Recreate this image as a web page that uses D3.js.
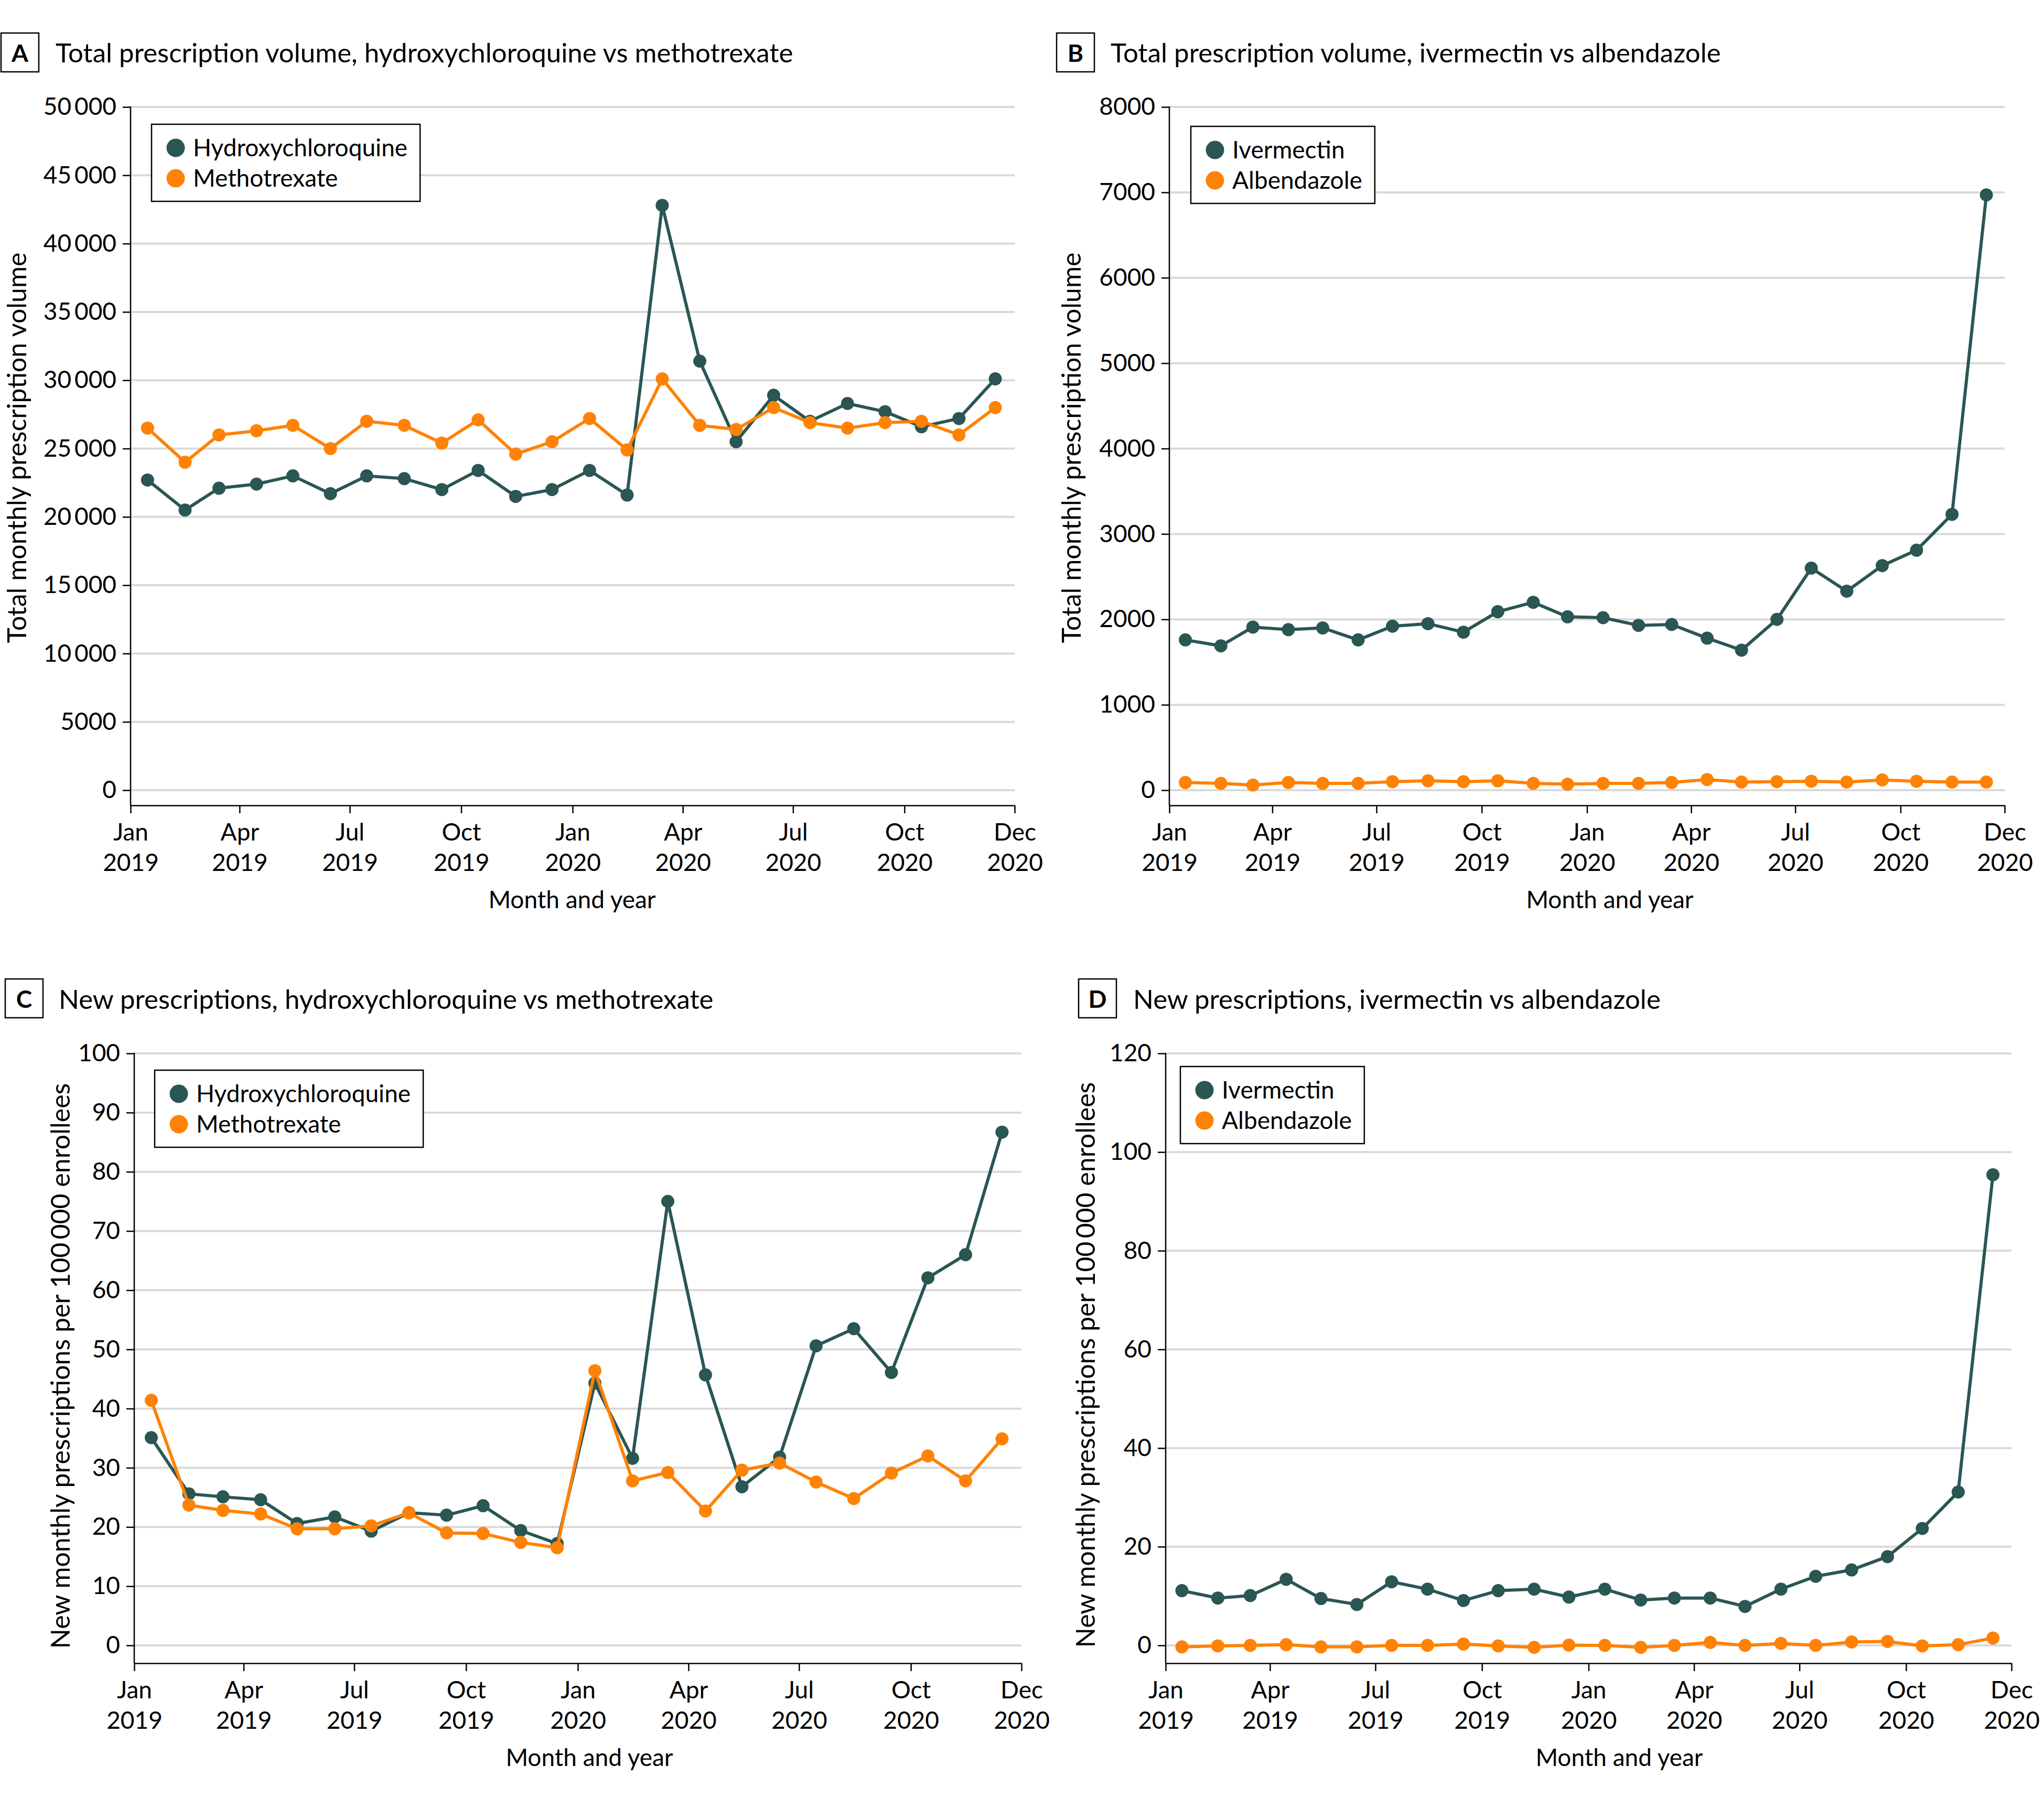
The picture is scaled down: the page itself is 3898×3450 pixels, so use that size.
<!DOCTYPE html>
<html><head><meta charset="utf-8">
<script src="https://cdn.jsdelivr.net/npm/d3@7"></script>
<style>
html,body{margin:0;padding:0;background:#fff;}
svg{display:block;}
text{font-family:Lato,"Open Sans",sans-serif;fill:#000;}
</style></head><body>
<svg id="chart" width="3898" height="3450"></svg>
<script>
// ---------- DATA ----------
const months = ["2019-01","2019-02","2019-03","2019-04","2019-05","2019-06","2019-07","2019-08","2019-09","2019-10","2019-11","2019-12",
                "2020-01","2020-02","2020-03","2020-04","2020-05","2020-06","2020-07","2020-08","2020-09","2020-10","2020-11","2020-12"];

const hcqTotal = [22700,20500,22100,22400,23000,21700,23000,22800,22000,23400,21500,22000,
                  23400,21600,42800,31400,25500,28900,27000,28300,27700,26600,27200,30100];
const mtxTotal = [26500,24000,26000,26300,26700,25000,27000,26700,25400,27100,24600,25500,
                  27200,24900,30100,26700,26400,28000,26900,26500,26900,27000,26000,28000];

const ivmTotal = [1760,1690,1910,1880,1900,1760,1920,1950,1850,2090,2200,2030,
                  2020,1930,1940,1780,1640,2000,2600,2330,2630,2810,3230,6970];
const albTotal = [90,80,60,90,80,80,100,110,100,110,80,70,
                  80,80,90,125,95,100,105,95,120,105,95,95];

const hcqNew = [35.1,25.6,25.1,24.6,20.6,21.7,19.3,22.4,22.0,23.6,19.4,17.2,
                44.3,31.6,75.0,45.7,26.8,31.8,50.6,53.5,46.1,62.1,66.0,86.7];
const mtxNew = [41.4,23.7,22.8,22.2,19.7,19.7,20.2,22.4,19.0,18.9,17.4,16.5,
                46.4,27.8,29.2,22.7,29.6,30.8,27.6,24.8,29.1,32.0,27.8,34.9];

const ivmNew = [11.1,9.6,10.1,13.4,9.5,8.3,12.9,11.4,9.1,11.1,11.4,9.8,
                11.4,9.2,9.6,9.6,7.9,11.4,14.0,15.3,18.0,23.7,31.1,95.4];
const albNew = [-0.3,-0.1,0,0.15,-0.3,-0.3,0,0,0.27,-0.1,-0.4,0.05,
                0,-0.4,0,0.6,0,0.4,0,0.7,0.8,-0.1,0.15,1.5];

const yTicksA = [0,5000,10000,15000,20000,25000,30000,35000,40000,45000,50000];
const yLabelsA = ["0","5000","10\u2009000","15\u2009000","20\u2009000","25\u2009000","30\u2009000","35\u2009000","40\u2009000","45\u2009000","50\u2009000"];
const yTicksB = [0,1000,2000,3000,4000,5000,6000,7000,8000];
const yLabelsB = ["0","1000","2000","3000","4000","5000","6000","7000","8000"];
const yTicksC = [0,10,20,30,40,50,60,70,80,90,100];
const yLabelsC = ["0","10","20","30","40","50","60","70","80","90","100"];
const yTicksD = [0,20,40,60,80,100,120];
const yLabelsD = ["0","20","40","60","80","100","120"];

const xTickDates = ["2019-01-01","2019-04-01","2019-07-01","2019-10-01","2020-01-01","2020-04-01","2020-07-01","2020-10-01","2020-12-31"];
const xTickMonths = ["Jan","Apr","Jul","Oct","Jan","Apr","Jul","Oct","Dec"];
const xTickYears = ["2019","2019","2019","2019","2020","2020","2020","2020","2020"];

const panelLetters = ["A","B","C","D"];
const panelTitles = ["Total prescription volume, hydroxychloroquine vs methotrexate",
                     "Total prescription volume, ivermectin vs albendazole",
                     "New prescriptions, hydroxychloroquine vs methotrexate",
                     "New prescriptions, ivermectin vs albendazole"];
const yTitles = ["Total monthly prescription volume","Total monthly prescription volume",
                 "New monthly prescriptions per 100\u2009000 enrollees","New monthly prescriptions per 100\u2009000 enrollees"];
const xTitle = "Month and year";

// ---------- STYLE / LAYOUT ----------
const TEAL = "#2a5654", ORANGE = "#ff8205";
const parseMonth = d3.timeParse("%Y-%m");
const parseDay = d3.timeParse("%Y-%m-%d");
const pointDates = months.map(m => d3.timeDay.offset(parseMonth(m), 14));

const panels = [
  {series:[["Hydroxychloroquine",hcqTotal,TEAL],["Methotrexate",mtxTotal,ORANGE]], ticks:yTicksA, labels:yLabelsA,
   L:{x0:249,x1:1935,yTop:204,yZero:1507,yAxis:1536,boxX:2,boxY:63,titleX:106,titleY:119,yTitleX:50,yTitleCY:854,xTitleCX:1091,legX:289,legY:237}},
  {series:[["Ivermectin",ivmTotal,TEAL],["Albendazole",albTotal,ORANGE]], ticks:yTicksB, labels:yLabelsB,
   L:{x0:2230,x1:3823,yTop:204,yZero:1507,yAxis:1536,boxX:2015,boxY:63,titleX:2118,titleY:119,yTitleX:2061,yTitleCY:854,xTitleCX:3070,legX:2271,legY:241}},
  {series:[["Hydroxychloroquine",hcqNew,TEAL],["Methotrexate",mtxNew,ORANGE]], ticks:yTicksC, labels:yLabelsC,
   L:{x0:256,x1:1948,yTop:2009,yZero:3138,yAxis:3172,boxX:10,boxY:1867,titleX:112,titleY:1924,yTitleX:133,yTitleCY:2605,xTitleCX:1124,legX:295,legY:2041}},
  {series:[["Ivermectin",ivmNew,TEAL],["Albendazole",albNew,ORANGE]], ticks:yTicksD, labels:yLabelsD,
   L:{x0:2223,x1:3836,yTop:2009,yZero:3138,yAxis:3172,boxX:2057,boxY:1867,titleX:2161,titleY:1924,yTitleX:2088,yTitleCY:2603,xTitleCX:3088,legX:2251,legY:2034}}
];

const svg = d3.select("#chart");
svg.append("rect").attr("width",3898).attr("height",3450).attr("fill","#fff");

panels.forEach((p, pi) => {
  const L = p.L;
  const g = svg.append("g");
  const x = d3.scaleTime().domain([parseDay(xTickDates[0]), parseDay(xTickDates[xTickDates.length-1])]).range([L.x0, L.x1]);
  const y = d3.scaleLinear().domain([0, d3.max(p.ticks)]).range([L.yZero, L.yTop]);

  // panel label + title
  g.append("rect").attr("x",L.boxX).attr("y",L.boxY).attr("width",72).attr("height",74)
    .attr("fill","none").attr("stroke","#000").attr("stroke-width",2.5);
  g.append("text").attr("x",L.boxX+36).attr("y",L.boxY+55).attr("text-anchor","middle")
    .attr("font-size",46).attr("font-weight","bold").text(panelLetters[pi]);
  g.append("text").attr("x",L.titleX).attr("y",L.titleY).attr("font-size",51).text(panelTitles[pi]);

  // gridlines
  g.append("g").selectAll("line").data(p.ticks).join("line")
    .attr("x1",L.x0).attr("x2",L.x1).attr("y1",d=>y(d)).attr("y2",d=>y(d))
    .attr("stroke","#d9d9d9").attr("stroke-width",4);

  // y axis
  const gy = g.append("g").attr("transform",`translate(${L.x0},0)`)
    .call(d3.axisLeft(y).tickValues(p.ticks).tickFormat((d,i)=>p.labels[i]).tickSize(15).tickPadding(12));
  gy.select(".domain").remove();
  gy.selectAll(".tick line").attr("stroke","#000").attr("stroke-width",2.5);
  gy.selectAll(".tick text").attr("font-size",46).attr("font-family","Lato, 'Open Sans', sans-serif").attr("fill","#000");
  g.append("line").attr("x1",L.x0).attr("x2",L.x0).attr("y1",L.yTop-1).attr("y2",L.yAxis)
    .attr("stroke","#000").attr("stroke-width",2.5);

  // x axis
  const gx = g.append("g").attr("transform",`translate(0,${L.yAxis})`)
    .call(d3.axisBottom(x).tickValues(xTickDates.map(parseDay)).tickFormat(()=>"").tickSize(15).tickSizeOuter(0));
  gx.select(".domain").attr("stroke","#000").attr("stroke-width",2.5);
  gx.selectAll(".tick line").attr("stroke","#000").attr("stroke-width",2.5);
  gx.selectAll(".tick").each(function(d,i){
    const t = d3.select(this);
    t.select("text").remove();
    t.append("text").attr("y",67).attr("text-anchor","middle").attr("font-size",46).text(xTickMonths[i]);
    t.append("text").attr("y",125).attr("text-anchor","middle").attr("font-size",46).text(xTickYears[i]);
  });

  // axis titles
  g.append("text").attr("x",L.xTitleCX).attr("y",L.yAxis+196).attr("text-anchor","middle").attr("font-size",46).text(xTitle);
  g.append("text").attr("transform",`translate(${L.yTitleX},${L.yTitleCY}) rotate(-90)`)
    .attr("text-anchor","middle").attr("font-size",50).text(yTitles[pi]);

  // series
  const line = d3.line().x((d,i)=>x(pointDates[i])).y(d=>y(d));
  p.series.forEach(([name, vals, col]) => {
    const sg = g.append("g");
    sg.append("path").datum(vals).attr("d",line).attr("fill","none").attr("stroke",col)
      .attr("stroke-width",6).attr("stroke-linejoin","round");
    sg.selectAll("circle").data(vals).join("circle")
      .attr("cx",(d,i)=>x(pointDates[i])).attr("cy",d=>y(d)).attr("r",12.5).attr("fill",col);
  });

  // legend
  const lg = g.append("g");
  const box = lg.append("rect").attr("x",L.legX).attr("y",L.legY).attr("height",147)
    .attr("fill","#fff").attr("stroke","#000").attr("stroke-width",2.5);
  let maxEnd = 0;
  p.series.forEach(([name, vals, col], i) => {
    const cy = L.legY + 45 + i*58;
    lg.append("circle").attr("cx",L.legX+46).attr("cy",cy).attr("r",17.5).attr("fill",col);
    const t = lg.append("text").attr("x",L.legX+79).attr("y",cy+16).attr("font-size",46).text(name);
    maxEnd = Math.max(maxEnd, L.legX+79+t.node().getComputedTextLength());
  });
  box.attr("width", maxEnd + 24 - L.legX);
});
</script>
</body></html>
